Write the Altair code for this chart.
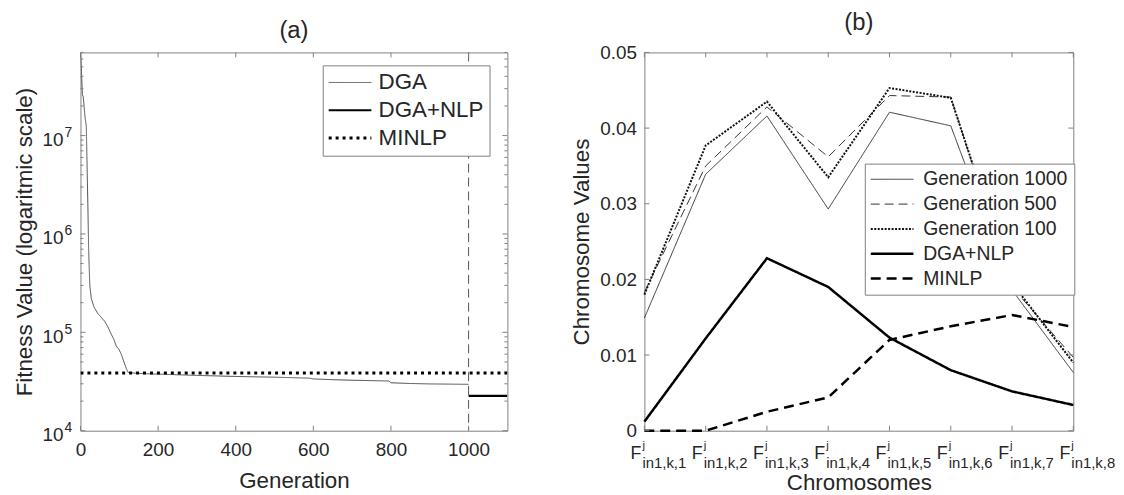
import altair as alt
import pandas as pd

FONT = "Liberation Sans"
TXT = "#262626"
AX = "#808080"

# ---------------- panel (a) data ----------------
gen_dga = [0, 2, 5, 7, 12, 15, 19, 21, 24, 28, 35, 45, 55, 62, 70, 79, 86, 92, 100, 105, 112, 118, 123,
           150, 200, 300, 400, 500, 590, 600, 650, 700, 795, 800, 850, 900, 1000]
fit_dga = [7.0e7, 5.0e7, 2.6e7, 2.5e7, 1.5e7, 1.25e7, 2.0e6, 7.0e5, 3.0e5, 2.2e5, 1.8e5, 1.55e5, 1.4e5,
           1.3e5, 1.15e5, 9.6e4, 8.5e4, 7.3e4, 6.6e4, 6.0e4, 5.0e4, 4.3e4, 3.9e4,
           3.82e4, 3.76e4, 3.65e4, 3.56e4, 3.5e4, 3.42e4, 3.36e4, 3.3e4, 3.26e4, 3.2e4, 3.07e4, 3.02e4, 2.99e4, 2.96e4]
gen_minlp_a = [0, 1100]
fit_minlp_a = [3.85e4, 3.85e4]
gen_dganlp_a = [1000, 1100]
fit_dganlp_a = [2.26e4, 2.26e4]
gen_switch = [1000]
names_a = ["DGA", "DGA+NLP", "MINLP"]
colors_a = ["#4d4d4d", "#000000", "#000000"]
dashes_a = [[1, 0], [1, 0], [3, 4]]
widths_a = [1, 2.2, 3]
gen_ticks = [0, 200, 400, 600, 800, 1000]
exp_ticks = [4, 5, 6, 7]
minor_ticks = [m * 10 ** k for k in (4, 5, 6, 7) for m in range(2, 10) if m * 10 ** k <= 7e7]

# ---------------- panel (b) data ----------------
cats = ["in1,k,1", "in1,k,2", "in1,k,3", "in1,k,4", "in1,k,5", "in1,k,6", "in1,k,7", "in1,k,8"]
gen1000 = [0.0149, 0.0339, 0.0416, 0.0293, 0.0421, 0.0403, 0.0186, 0.0077]
gen500 = [0.0183, 0.0350, 0.0428, 0.0362, 0.0443, 0.0441, 0.0190, 0.0097]
gen100 = [0.0180, 0.0377, 0.0435, 0.0335, 0.0453, 0.0440, 0.0195, 0.0090]
dganlp_b = [0.0012, 0.0122, 0.0228, 0.0190, 0.0123, 0.0080, 0.0052, 0.0034]
minlp_b = [0.0, 0.0, 0.0025, 0.0044, 0.0120, 0.0138, 0.0153, 0.0137]
names_b = ["Generation 1000", "Generation 500", "Generation 100", "DGA+NLP", "MINLP"]
colors_b = ["#333333", "#333333", "#111111", "#000000", "#000000"]
dashes_b = [[1, 0], [9, 5], [2, 1.5], [1, 0], [10, 6]]
widths_b = [1, 1, 2, 2.5, 2.5]
val_ticks = [0, 0.01, 0.02, 0.03, 0.04, 0.05]

W_A, W_B, H = 430, 432, 381
LINE_SYMBOL = "M-4,0H4"   # horizontal stroke, length = 4*sqrt(size)


def series_channels(names, colors, dashes, widths, legend):
    # series index k (0..n-1) through threshold scales, so that one merged legend
    # carries colour, dash pattern and stroke width of every series
    th = [i + 0.5 for i in range(len(names) - 1)]
    return dict(
        color=alt.Color("k:Q", scale=alt.Scale(type="threshold", domain=th, range=colors), legend=legend),
        strokeDash=alt.StrokeDash("k:Q", scale=alt.Scale(type="threshold", domain=th, range=dashes),
                                  legend=legend),
        strokeWidth=alt.StrokeWidth("k:Q", scale=alt.Scale(type="threshold", domain=th, range=widths),
                                    legend=legend),
    )


def names_expr(names):
    return "[" + ",".join("'%s'" % n for n in names) + "][datum.index]"


# ---------------- panel (a) ----------------
rows = []
for g, f in zip(gen_dga, fit_dga):
    rows.append({"gen": g, "fit": f, "k": 0})
for g, f in zip(gen_dganlp_a, fit_dganlp_a):
    rows.append({"gen": g, "fit": f, "k": 1})
for g, f in zip(gen_minlp_a, fit_minlp_a):
    rows.append({"gen": g, "fit": f, "k": 2})
df_a = pd.DataFrame(rows)

x_a = alt.X("gen:Q", scale=alt.Scale(domain=[0, 1100], nice=False, zero=False),
            axis=alt.Axis(values=gen_ticks, format="d", title="Generation", ticks=False, tickSize=0,
                          domain=False, grid=False, labelPadding=10, labelFontSize=19, titleFontSize=22.5,
                          titlePadding=10, labelFlush=False, labelOverlap=False))
y_a = alt.Y("fit:Q", scale=alt.Scale(type="log", domain=[1e4, 7e7], nice=False),
            axis=alt.Axis(labels=False, ticks=False, tickSize=0, domain=False, grid=False,
                          title="Fitness Value (logaritmic scale)", titleFontSize=22.5, titlePadding=44))

legend_a = alt.Legend(title=None, orient="none", legendX=244, legendY=13, symbolType=LINE_SYMBOL,
                      symbolSize=115.56, symbolOffset=10.25, labelOffset=17.5,
                      labelFontSize=22.5, labelFont=FONT, labelColor=TXT, labelExpr=names_expr(names_a),
                      padding=6, rowPadding=5, strokeColor=AX, fillColor="white", labelLimit=300)

lines_a = alt.Chart(df_a).mark_line(strokeCap="butt", clip=True).encode(
    x=x_a, y=y_a, **series_channels(names_a, colors_a, dashes_a, widths_a, legend_a))

switch = alt.Chart(pd.DataFrame({"gen": gen_switch})).mark_rule(
    color="#555555", strokeDash=[9, 5], strokeWidth=1).encode(x=alt.X("gen:Q"))

gt = pd.DataFrame({"gen": gen_ticks})
xt_bot = alt.Chart(gt).mark_rule(color=AX).encode(x="gen:Q", y=alt.value(H), y2=alt.value(H - 5))
xt_top = alt.Chart(gt).mark_rule(color=AX).encode(x="gen:Q", y=alt.value(0), y2=alt.value(5))

yt = pd.DataFrame({"fit": [10.0 ** k for k in exp_ticks], "base": ["10"] * len(exp_ticks),
                   "exp": [str(k) for k in exp_ticks]})
ym = pd.DataFrame({"fit": minor_ticks})
yt_l = alt.Chart(yt).mark_rule(color=AX).encode(y="fit:Q", x=alt.value(0), x2=alt.value(5))
yt_r = alt.Chart(yt).mark_rule(color=AX).encode(y="fit:Q", x=alt.value(W_A), x2=alt.value(W_A - 5))
ym_l = alt.Chart(ym).mark_rule(color=AX).encode(y="fit:Q", x=alt.value(0), x2=alt.value(3))
ym_r = alt.Chart(ym).mark_rule(color=AX).encode(y="fit:Q", x=alt.value(W_A), x2=alt.value(W_A - 3))

lab_base = alt.Chart(yt).mark_text(align="right", baseline="middle", fontSize=19, font=FONT,
                                   color=TXT, dy=4.5).encode(x=alt.value(-17), y="fit:Q", text="base:N")
lab_exp = alt.Chart(yt).mark_text(align="left", baseline="middle", fontSize=14, font=FONT,
                                  color=TXT, dy=-2.5).encode(x=alt.value(-16), y="fit:Q", text="exp:N")

chart_a = alt.layer(lines_a, switch, xt_bot, xt_top, yt_l, yt_r, ym_l, ym_r, lab_base, lab_exp).properties(
    width=W_A, height=H,
    title=alt.TitleParams("(a)", fontSize=24, font=FONT, color=TXT, fontWeight="normal",
                          anchor="middle", offset=9))

# ---------------- panel (b) ----------------
rows = []
for i, vals in enumerate([gen1000, gen500, gen100, dganlp_b, minlp_b]):
    for c, v in zip(cats, vals):
        rows.append({"chrom": c, "val": v, "k": i})
df_b = pd.DataFrame(rows)

x_b = alt.X("chrom:N", sort=cats, scale=alt.Scale(type="point", domain=cats, padding=0),
            axis=alt.Axis(labels=False, ticks=False, tickSize=0, domain=False, grid=False,
                          title="Chromosomes", titleFontSize=22.5, titlePadding=41))
y_b = alt.Y("val:Q", scale=alt.Scale(domain=[0, 0.05], nice=False, zero=False),
            axis=alt.Axis(values=val_ticks, labelExpr="datum.value == 0 ? '0' : format(datum.value, '.2f')",
                          ticks=False, tickSize=0, domain=False, grid=False, labelPadding=8,
                          labelFontSize=19, title="Chromosome Values", titleFontSize=22.5,
                          titlePadding=6, labelOverlap=False))

legend_b = alt.Legend(title=None, orient="none", legendX=222, legendY=112, symbolType=LINE_SYMBOL,
                      symbolSize=115.56, symbolOffset=11.75, labelOffset=21.5,
                      labelFontSize=19.5, labelFont=FONT, labelColor=TXT, labelExpr=names_expr(names_b),
                      padding=6, rowPadding=4, strokeColor=AX, fillColor="white", labelLimit=300)

lines_b = alt.Chart(df_b).mark_line(strokeCap="butt").encode(
    x=x_b, y=y_b, **series_channels(names_b, colors_b, dashes_b, widths_b, legend_b))

ct = pd.DataFrame({"chrom": cats})
cx_bot = alt.Chart(ct).mark_rule(color=AX).encode(x="chrom:N", y=alt.value(H), y2=alt.value(H - 5))
cx_top = alt.Chart(ct).mark_rule(color=AX).encode(x="chrom:N", y=alt.value(0), y2=alt.value(5))
vt = pd.DataFrame({"val": val_ticks})
vy_l = alt.Chart(vt).mark_rule(color=AX).encode(y="val:Q", x=alt.value(0), x2=alt.value(5))
vy_r = alt.Chart(vt).mark_rule(color=AX).encode(y="val:Q", x=alt.value(W_B), x2=alt.value(W_B - 5))

lab_F = alt.Chart(ct).mark_text(text="F", align="right", baseline="alphabetic", fontSize=18, font=FONT,
                                color=TXT, dx=-3).encode(x="chrom:N", y=alt.value(H + 28))
lab_j = alt.Chart(ct).mark_text(text="j", align="left", baseline="alphabetic", fontSize=11.5, font=FONT,
                                color=TXT, dx=-2).encode(x="chrom:N", y=alt.value(H + 18))
lab_sub = alt.Chart(ct).mark_text(align="left", baseline="alphabetic", fontSize=15, font=FONT,
                                  color=TXT, dx=-2).encode(x="chrom:N", y=alt.value(H + 38), text="chrom:N")

chart_b = alt.layer(lines_b, cx_bot, cx_top, vy_l, vy_r, lab_F, lab_j, lab_sub).properties(
    width=W_B, height=H,
    title=alt.TitleParams("(b)", fontSize=24, font=FONT, color=TXT, fontWeight="normal",
                          anchor="middle", offset=9))

chart = alt.hconcat(chart_a, chart_b, spacing=62).resolve_scale(
    color="independent", strokeDash="independent", strokeWidth="independent"
).properties(
    padding={"left": 5, "top": 0, "right": 0, "bottom": 0}
).configure(font=FONT).configure_view(stroke=AX, strokeWidth=1).configure_axis(
    labelFont=FONT, titleFont=FONT, labelColor=TXT, titleColor=TXT, titleFontWeight="normal"
)

chart.save("out.html", embed_options={"renderer": "svg", "actions": False})
